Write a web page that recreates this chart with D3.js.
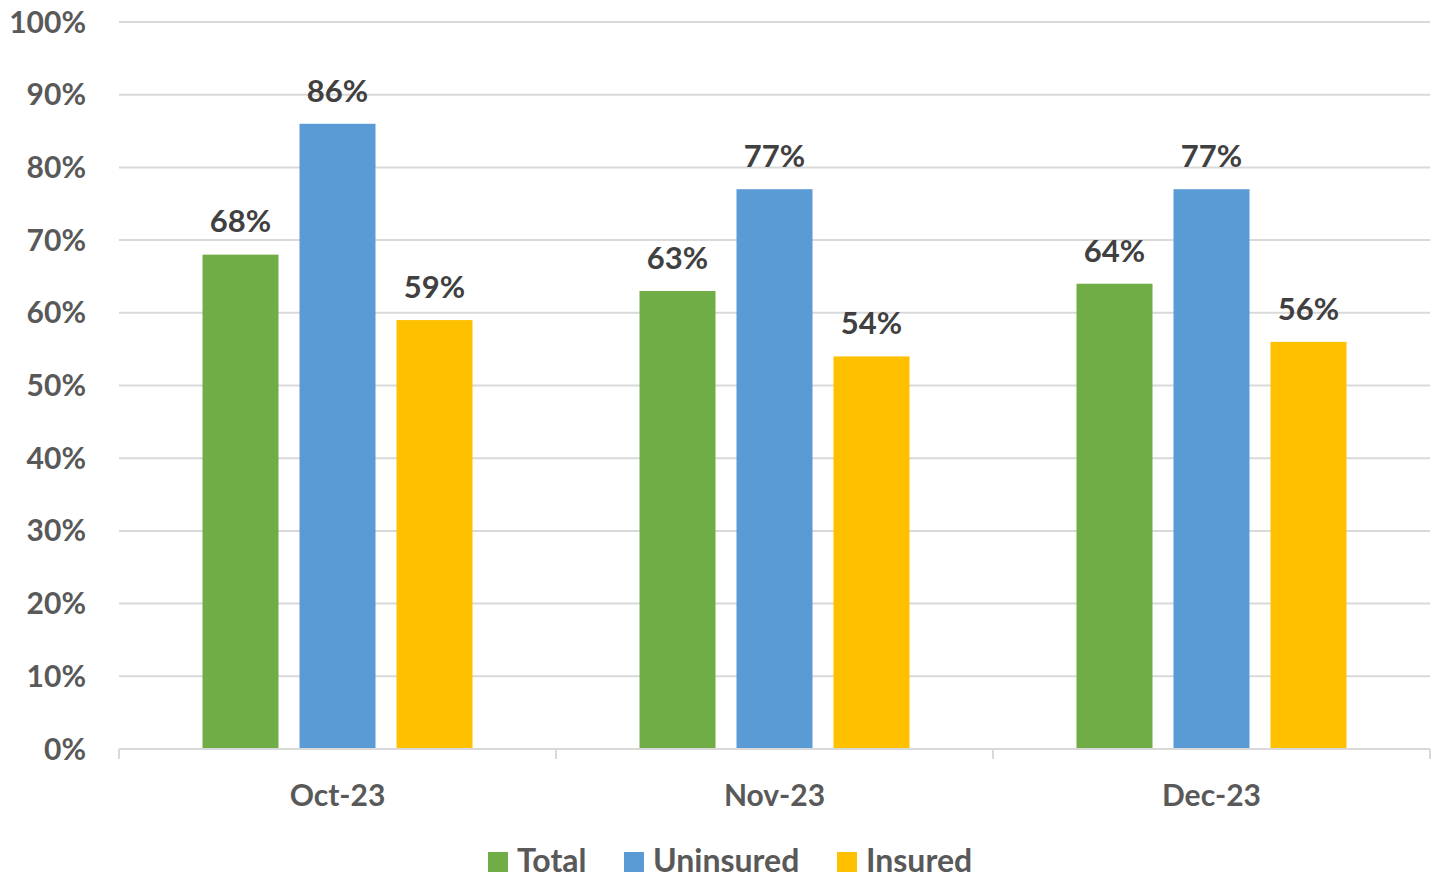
<!DOCTYPE html>
<html><head><meta charset="utf-8">
<script src="https://cdn.jsdelivr.net/npm/d3@7"></script>
<style>body{margin:0;background:#fff}svg{display:block}text{font-family:Lato,"Open Sans",sans-serif;font-weight:bold}</style>
</head><body><svg id="c" width="1439" height="880"></svg>
<script>
const categories = ["Oct-23","Nov-23","Dec-23"];
const seriesNames = ["Total","Uninsured","Insured"];
const totalValues = [68,63,64];
const uninsuredValues = [86,77,77];
const insuredValues = [59,54,56];
const yTicks = [0,10,20,30,40,50,60,70,80,90,100];
const colors = ["#70ad47","#5b9bd5","#ffc000"];

const series = [totalValues, uninsuredValues, insuredValues];
const svg = d3.select("#c");
const L=119, R=1430, T=22, B=749;
const x = d3.scaleBand().domain(categories).range([L,R]).paddingInner(0).paddingOuter(0);
const y = d3.scaleLinear().domain([0,100]).range([B,T]);
const barW=76, gap=21, groupW=3*barW+2*gap;
const xs = d3.scaleBand().domain(seriesNames).range([0,groupW]).paddingInner(gap/(barW+gap)).paddingOuter(0);

// gridlines
svg.append("g").selectAll("line").data(yTicks.filter(d=>d>0)).join("line")
 .attr("x1",L).attr("x2",R).attr("y1",d=>y(d)).attr("y2",d=>y(d))
 .attr("stroke","#d9d9d9").attr("stroke-width",2);
// y labels
svg.append("g").selectAll("text").data(yTicks).join("text")
 .attr("x",86).attr("y",d=>y(d)).attr("dy","0.35em").attr("text-anchor","end")
 .attr("font-size",30).attr("fill","#595959").text(d=>d+"%");

// bars
const g = svg.append("g");
series.forEach((vals,si)=>{
  g.append("g").selectAll("rect").data(vals).join("rect")
   .attr("x",(d,i)=>x(categories[i])+(x.bandwidth()-groupW)/2+xs(seriesNames[si]))
   .attr("width",xs.bandwidth())
   .attr("y",d=>y(d)).attr("height",d=>B-y(d)).attr("fill",colors[si]);
  g.append("g").selectAll("text").data(vals).join("text")
   .attr("x",(d,i)=>x(categories[i])+(x.bandwidth()-groupW)/2+xs(seriesNames[si])+xs.bandwidth()/2)
   .attr("y",d=>y(d)-33).attr("dy","0.35em").attr("text-anchor","middle")
   .attr("font-size",31).attr("fill","#404040").text(d=>d+"%");
});

// x axis
const xa = svg.append("g");
xa.append("line").attr("x1",L).attr("x2",R).attr("y1",B).attr("y2",B).attr("stroke","#d9d9d9").attr("stroke-width",2);
const tickPos = categories.map(c=>x(c)).concat([R]);
xa.selectAll("line.t").data(tickPos).join("line").attr("class","t")
 .attr("x1",d=>d).attr("x2",d=>d).attr("y1",B).attr("y2",B+10).attr("stroke","#d9d9d9").attr("stroke-width",2);
xa.selectAll("text").data(categories).join("text")
 .attr("x",d=>x(d)+x.bandwidth()/2).attr("y",795).attr("dy","0.35em").attr("text-anchor","middle")
 .attr("font-size",30).attr("fill","#595959").text(d=>d);

// legend
const legX=[488,624,837];
const lg = svg.append("g");
seriesNames.forEach((n,i)=>{
  lg.append("rect").attr("x",legX[i]).attr("y",852).attr("width",20).attr("height",20).attr("fill",colors[i]);
  lg.append("text").attr("x",legX[i]+29).attr("y",861).attr("dy","0.35em").attr("font-size",32).attr("fill","#595959").text(n);
});
</script></body></html>
